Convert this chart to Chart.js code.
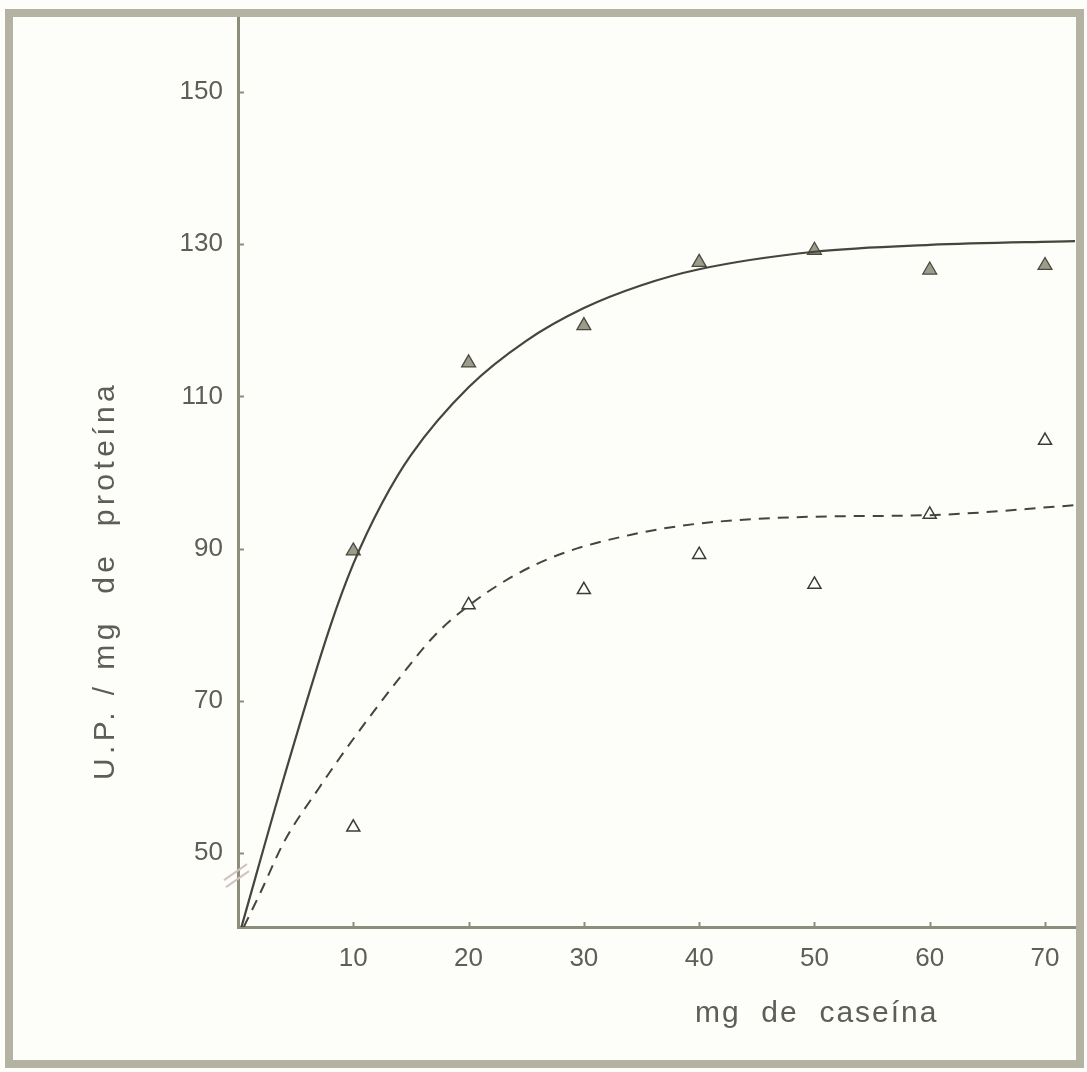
<!DOCTYPE html>
<html>
<head>
<meta charset="utf-8">
<script src="https://cdn.jsdelivr.net/npm/chart.js@4.4.1/dist/chart.umd.min.js"></script>
<style>
    body { margin: 0; background: #fdfdf9; }
    #wrap { width: 1087px; height: 1072px; }
</style>
</head>
<body>
<div id="wrap"><canvas id="chart" width="1087" height="1072"></canvas></div>
<script>
// measured points
const caseina = [10, 20, 30, 40, 50, 60, 70];
const upFilled = [89.7, 114.4, 119.3, 127.6, 129.2, 126.6, 127.2];
const upOpen = [53.4, 82.6, 84.6, 89.2, 85.3, 94.5, 104.2];

// hand-drawn fitted curves, read along their length
const solidX = [0.3, 4, 8, 10, 12.5, 15, 20, 25, 30, 35, 40, 50, 60, 72.6];
const solidY = [40.3, 60, 79.8, 88, 96, 102.3, 111.2, 117.3, 121.6, 124.6, 126.7, 129, 129.9, 130.4];
const dashedX = [0.5, 2, 4, 7, 10, 14, 17, 20, 24, 28, 34, 40, 50, 60, 72.6];
const dashedY = [40.3, 45, 51.5, 58.5, 65, 73, 78.5, 82.5, 86.5, 89.3, 91.8, 93.3, 94.2, 94.4, 95.7];

const xTicks = [10, 20, 30, 40, 50, 60, 70];
const yTicks = [50, 70, 90, 110, 130, 150];

const xTitle = 'mg  de  caseína';
const yTitle = 'U.P. / mg  de  proteína';

const toXY = (xs, ys) => xs.map((x, i) => ({ x: x, y: ys[i] }));

const inkColor = '#45453c';
const axisColor = '#8e8d7c';
const labelColor = '#5e5e58';

// frame, inner tick marks, axis break and titles
const decorPlugin = {
    id: 'decor',
    afterDraw(chart) {
        const ctx = chart.ctx;
        const area = chart.chartArea;
        const xs = chart.scales.x;
        const ys = chart.scales.y;
        ctx.save();

        ctx.strokeStyle = axisColor;
        ctx.lineWidth = 2;
        yTicks.forEach((v) => {
            const py = Math.round(ys.getPixelForValue(v)) + 0.5;
            ctx.beginPath();
            ctx.moveTo(area.left, py);
            ctx.lineTo(area.left + 6, py);
            ctx.stroke();
        });
        xTicks.forEach((v) => {
            const px = Math.round(xs.getPixelForValue(v)) + 0.5;
            ctx.beginPath();
            ctx.moveTo(px, area.bottom);
            ctx.lineTo(px, area.bottom - 5);
            ctx.stroke();
        });

        // axis break on the y axis
        const by = ys.getPixelForValue(47.5);
        ctx.strokeStyle = '#d3c2c2';
        ctx.lineWidth = 2;
        ctx.beginPath();
        ctx.moveTo(area.left - 14, by + 8);
        ctx.lineTo(area.left + 9, by - 8);
        ctx.moveTo(area.left - 12, by + 15);
        ctx.lineTo(area.left + 11, by - 1);
        ctx.stroke();

        // titles
        ctx.fillStyle = labelColor;
        ctx.font = '30px "Liberation Sans", Arial, sans-serif';
        ctx.letterSpacing = '2px';
        ctx.textAlign = 'left';
        ctx.textBaseline = 'alphabetic';
        ctx.fillText(xTitle, 695, 1022);

        ctx.letterSpacing = '4.4px';
        ctx.translate(114, 780);
        ctx.rotate(-Math.PI / 2);
        ctx.fillText(yTitle, 0, 0);
        ctx.setTransform(1, 0, 0, 1, 0, 0);

        // scanned page edge
        ctx.strokeStyle = '#b4b2a2';
        ctx.lineWidth = 8;
        ctx.strokeRect(9, 13, 1071, 1051);
        ctx.restore();
    },
};

const ctx = document.getElementById('chart');
new Chart(ctx, {
    type: 'line',
    data: {
        datasets: [
            {
                label: 'curva 1',
                data: toXY(solidX, solidY),
                borderColor: inkColor,
                borderWidth: 2.2,
                pointRadius: 0,
                cubicInterpolationMode: 'monotone',
                fill: false,
            },
            {
                label: 'curva 2',
                data: toXY(dashedX, dashedY),
                borderColor: inkColor,
                borderWidth: 2,
                borderDash: [11, 8],
                pointRadius: 0,
                cubicInterpolationMode: 'monotone',
                fill: false,
            },
            {
                label: 'filled',
                data: toXY(caseina, upFilled),
                showLine: false,
                pointStyle: 'triangle',
                pointRadius: 8,
                pointBackgroundColor: '#9d9c8a',
                pointBorderColor: '#4a4a42',
                pointBorderWidth: 1.3,
            },
            {
                label: 'open',
                data: toXY(caseina, upOpen),
                showLine: false,
                pointStyle: 'triangle',
                pointRadius: 7.5,
                pointBackgroundColor: '#ffffff',
                pointBorderColor: '#3c3c36',
                pointBorderWidth: 1.5,
            },
        ],
    },
    options: {
        responsive: false,
        devicePixelRatio: 1,
        animation: false,
        events: [],
        layout: { padding: { left: 0, top: 15, right: 12, bottom: 0 } },
        plugins: {
            legend: { display: false },
            tooltip: { enabled: false },
        },
        scales: {
            x: {
                type: 'linear',
                min: 0,
                max: 72.6,
                afterBuildTicks: (scale) => {
                    scale.ticks = xTicks.map((v) => ({ value: v }));
                },
                afterFit: (scale) => {
                    scale.height = 145;
                    scale.paddingRight = 0;
                },
                grid: { display: false, drawTicks: false },
                border: { display: true, color: axisColor, width: 3 },
                ticks: {
                    color: labelColor,
                    padding: 16,
                    maxRotation: 0,
                    font: { family: '"Liberation Sans", Arial, sans-serif', size: 26 },
                },
            },
            y: {
                min: 40.3,
                max: 160.1,
                afterBuildTicks: (scale) => {
                    scale.ticks = yTicks.map((v) => ({ value: v }));
                },
                afterFit: (scale) => {
                    scale.width = 238;
                    scale.paddingTop = 0;
                    scale.paddingBottom = 0;
                },
                grid: { display: false, drawTicks: false },
                border: { display: true, color: axisColor, width: 3 },
                ticks: {
                    color: labelColor,
                    padding: 15,
                    font: { family: '"Liberation Sans", Arial, sans-serif', size: 26 },
                },
            },
        },
    },
    plugins: [decorPlugin],
});
</script>
</body>
</html>
